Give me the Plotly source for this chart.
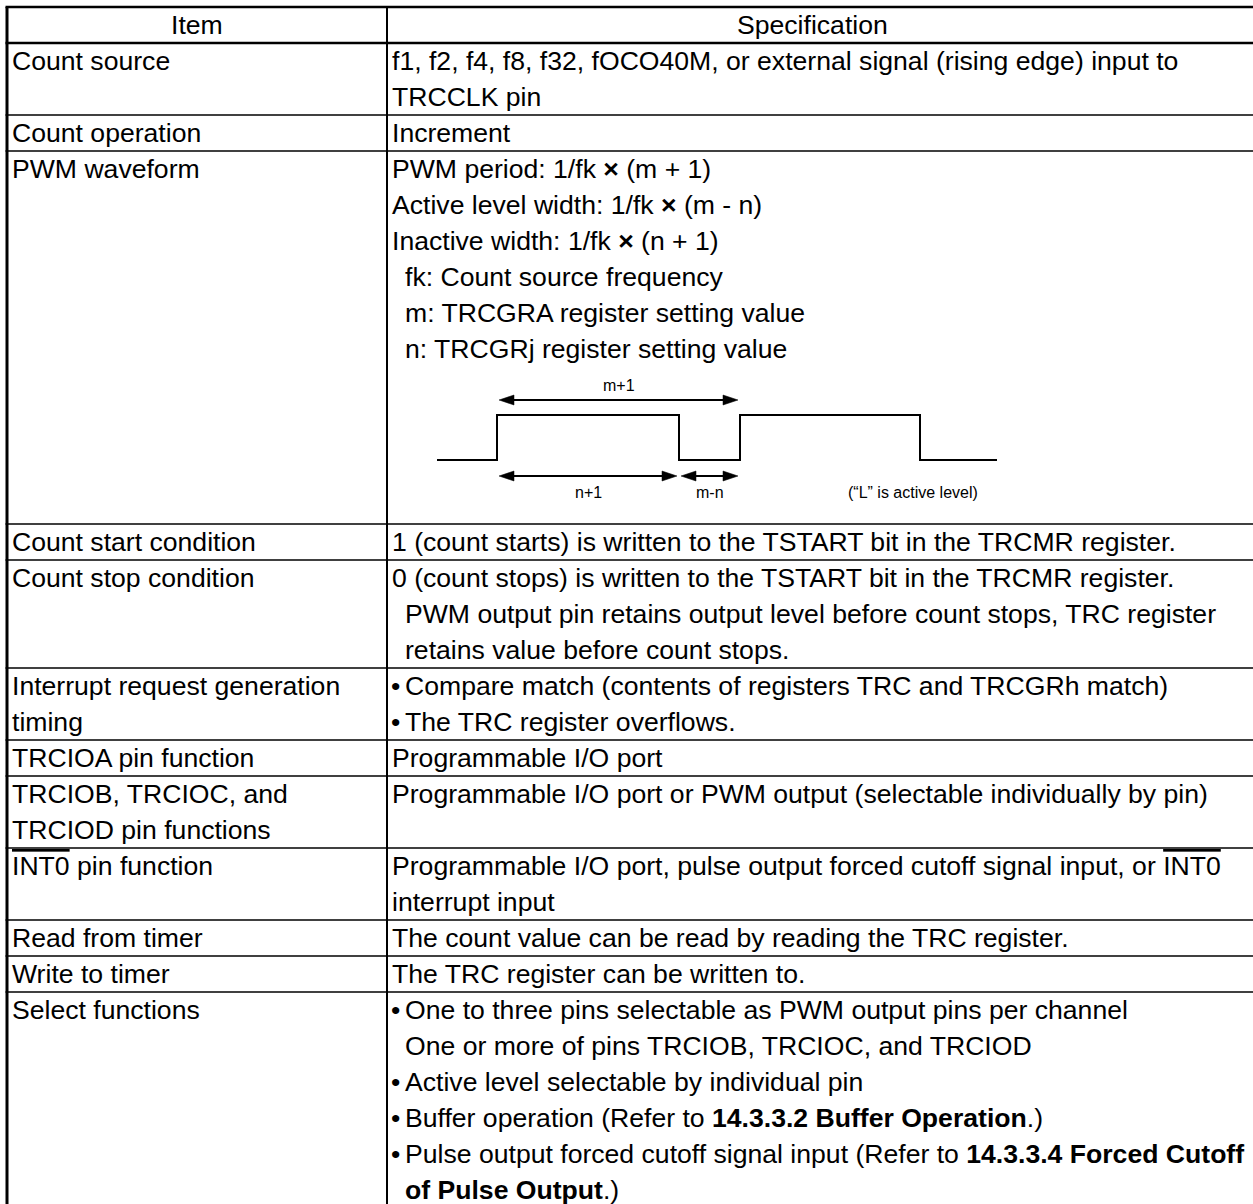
import plotly.graph_objects as go

# ---------------- data (table content) ----------------
header = ["Item", "Specification"]

OVL = '<span style="text-decoration:overline">INT0</span>'

items = [
    ["Count source"],
    ["Count operation"],
    ["PWM waveform"],
    ["Count start condition"],
    ["Count stop condition"],
    ["Interrupt request generation", "timing"],
    ["TRCIOA pin function"],
    ["TRCIOB, TRCIOC, and", "TRCIOD pin functions"],
    [OVL + " pin function"],
    ["Read from timer"],
    ["Write to timer"],
    ["Select functions"],
]

# (style, text): style 0 = plain, 1 = bullet, 2 = indented continuation
specs = [
    [(0, "f1, f2, f4, f8, f32, fOCO40M, or external signal (rising edge) input to"),
     (0, "TRCCLK pin")],
    [(0, "Increment")],
    [(0, "PWM period: 1/fk <b>×</b> (m + 1)"),
     (0, "Active level width: 1/fk <b>×</b> (m - n)"),
     (0, "Inactive width: 1/fk <b>×</b> (n + 1)"),
     (2, "fk: Count source frequency"),
     (2, "m: TRCGRA register setting value"),
     (2, "n: TRCGRj register setting value")],
    [(0, "1 (count starts) is written to the TSTART bit in the TRCMR register.")],
    [(0, "0 (count stops) is written to the TSTART bit in the TRCMR register."),
     (2, "PWM output pin retains output level before count stops, TRC register"),
     (2, "retains value before count stops.")],
    [(1, "Compare match (contents of registers TRC and TRCGRh match)"),
     (1, "The TRC register overflows.")],
    [(0, "Programmable I/O port")],
    [(0, "Programmable I/O port or PWM output (selectable individually by pin)"),
     (0, "")],
    [(0, "Programmable I/O port, pulse output forced cutoff signal input, or " + OVL),
     (0, "interrupt input")],
    [(0, "The count value can be read by reading the TRC register.")],
    [(0, "The TRC register can be written to.")],
    [(1, "One to three pins selectable as PWM output pins per channel"),
     (2, "One or more of pins TRCIOB, TRCIOC, and TRCIOD"),
     (1, "Active level selectable by individual pin"),
     (1, "Buffer operation (Refer to <b>14.3.3.2 Buffer Operation</b>.)"),
     (1, "Pulse output forced cutoff signal input (Refer to <b>14.3.3.4 Forced Cutoff</b>"),
     (2, "<b>of Pulse Output</b>.)")],
]

# PWM waveform illustration (in timing units along the row)
wave_edges = [437, 497, 679, 740, 920, 997]
wave_levels = [0, 1, 0, 1, 0, 0]
arrow_spans = [(499, 738, "m+1", "above"),
               (499, 677, "n+1", "below"),
               (681, 738, "m-n", "below")]
note_text = "(“L” is active level)"
note_x = 913

# ---------------- layout parameters ----------------
W, H = 1253, 1204
FONT = "Liberation Sans, Arial, Helvetica, sans-serif"
FS = 26.6
LINE_H = 36
TOP = 7
LEFT = 7
DIV = 387
RIGHT = 1258
PAD_L = 10
PAD_R = 390
BULLET_TXT = 403
EXTRA = {2: 157}       # extra height of the PWM waveform row (diagram)

shapes = []
annotations = []


def hline(y, x0, x1, w):
    shapes.append(dict(type="line", xref="x", yref="y", x0=x0, x1=x1, y0=y, y1=y,
                       line=dict(color="black", width=w)))


def vline(x, y0, y1, w):
    shapes.append(dict(type="line", xref="x", yref="y", x0=x, x1=x, y0=y0, y1=y1,
                       line=dict(color="black", width=w)))


def text(x, y, s, anchor="left", size=FS):
    annotations.append(dict(x=x, y=y, xref="x", yref="y", text=s, showarrow=False,
                            xanchor=anchor, yanchor="middle",
                            font=dict(family=FONT, size=size, color="black")))


# header row
y = TOP
text((LEFT + DIV) / 2, y + LINE_H / 2, header[0], anchor="center")
text((DIV + 1250) / 2 - 6, y + LINE_H / 2, header[1], anchor="center")
y += LINE_H
hline(y, LEFT - 1.5, RIGHT, 2.5)

row_tops = []
for i, (it, sp) in enumerate(zip(items, specs)):
    row_tops.append(y)
    n = max(len(it), len(sp))
    for k, s in enumerate(it):
        text(PAD_L, y + LINE_H / 2 + k * LINE_H, s)
    for k, (style, s) in enumerate(sp):
        cy = y + LINE_H / 2 + k * LINE_H
        if style == 0:
            text(PAD_R, cy, s)
        elif style == 1:
            text(PAD_R - 1, cy, "•")
            text(BULLET_TXT, cy, s)
        else:
            text(BULLET_TXT, cy, s)
    y += n * LINE_H + EXTRA.get(i, 0)
    if i < len(items) - 1:
        hline(y, LEFT - 1.5, RIGHT, 1.7)
bottom = y

# outer borders and divider
hline(TOP, LEFT - 1.5, RIGHT, 2.5)
hline(bottom, LEFT - 1.5, RIGHT, 2.5)
vline(LEFT, TOP, bottom, 3)
vline(DIV, TOP, bottom, 2)
vline(RIGHT, TOP, bottom, 3)

# ---------------- waveform diagram ----------------
pwm_top = row_tops[2] + 6 * LINE_H
y_high = pwm_top + 48
y_low = pwm_top + 93
y_arrow_up = pwm_top + 33
y_arrow_dn = pwm_top + 109
lab_up = pwm_top + 18
lab_dn = pwm_top + 125

wave_y = [y_low if v == 0 else y_high for v in wave_levels]

fig = go.Figure()
fig.add_trace(go.Scatter(x=wave_edges, y=wave_y, mode="lines",
                         line=dict(color="black", width=2, shape="hv"),
                         hoverinfo="skip", showlegend=False))

HEAD_L, HEAD_W = 15, 5
for x0, x1, lab, pos in arrow_spans:
    ya = y_arrow_up if pos == "above" else y_arrow_dn
    shapes.append(dict(type="line", xref="x", yref="y", x0=x0 + HEAD_L - 2, x1=x1 - HEAD_L + 2,
                       y0=ya, y1=ya, line=dict(color="black", width=2)))
    shapes.append(dict(type="path", xref="x", yref="y",
                       path=f"M {x0},{ya} L {x0 + HEAD_L},{ya - HEAD_W} L {x0 + HEAD_L},{ya + HEAD_W} Z",
                       fillcolor="black", line=dict(color="black", width=0.5)))
    shapes.append(dict(type="path", xref="x", yref="y",
                       path=f"M {x1},{ya} L {x1 - HEAD_L},{ya - HEAD_W} L {x1 - HEAD_L},{ya + HEAD_W} Z",
                       fillcolor="black", line=dict(color="black", width=0.5)))
    text((x0 + x1) / 2, lab_up if pos == "above" else lab_dn, lab, anchor="center", size=16)

text(note_x, lab_dn, note_text, anchor="center", size=16)

fig.update_layout(
    width=W, height=H,
    margin=dict(l=0, r=0, t=0, b=0),
    paper_bgcolor="white", plot_bgcolor="white",
    xaxis=dict(range=[0, W], visible=False, fixedrange=True),
    yaxis=dict(range=[H, 0], visible=False, fixedrange=True),
    shapes=shapes, annotations=annotations,
    showlegend=False,
)

fig.write_html("out.html", config={"displayModeBar": False, "staticPlot": True},
               post_script="document.body.style.margin='0';document.body.style.overflow='hidden';")
